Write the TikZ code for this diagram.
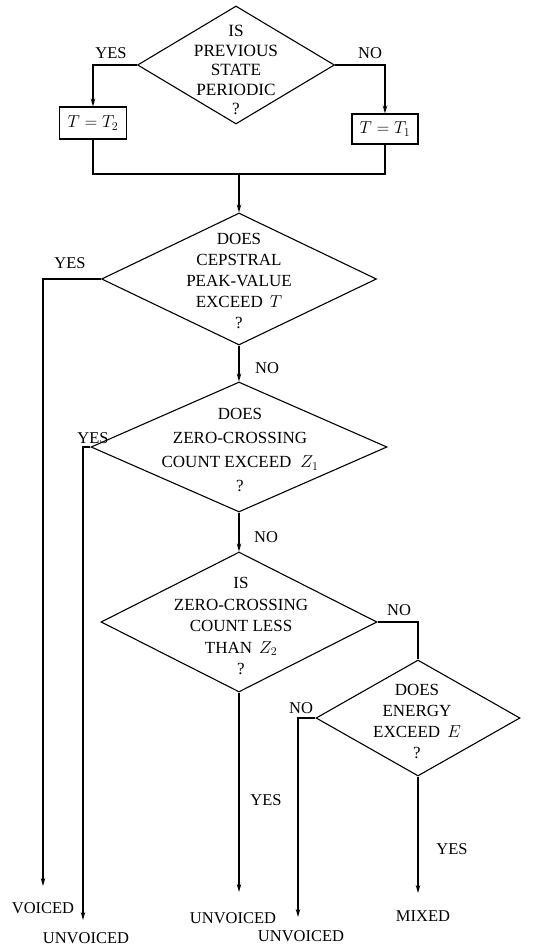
\documentclass[tikz,border=0pt]{standalone}
\usepackage{fontspec}
\setmainfont{Liberation Serif}
\usetikzlibrary{shapes.geometric,arrows.meta}
\begin{document}
\begin{tikzpicture}[x=1pt,y=-1pt,
  dia/.style={draw, shape=diamond, inner sep=0pt, line width=1.1pt},
  box/.style={draw, rectangle, inner sep=0pt, line width=1.1pt},
  txt/.style={align=center, inner sep=0pt},
  lbl/.style={font=\fontsize{16.5}{20}\selectfont, inner sep=0pt},
  ln/.style={line width=1.1pt},
  arr/.style={line width=1.1pt, -{Stealth[length=8pt,width=4.5pt]}}]
\useasboundingbox (0,0) rectangle (544,949);

% decision 1
\node[dia, minimum width=197pt, minimum height=118pt] (d1) at (236,65) {};
\node[txt, font=\fontsize{17.2}{19.5}\selectfont] (t1) at (236,70) {IS\\PREVIOUS\\STATE\\PERIODIC\\?};
\node[box, minimum width=67pt, minimum height=32pt, font=\fontsize{17}{20}\selectfont] (b2) at (93,123) {$T=T_2$};
\node[box, minimum width=66pt, minimum height=30pt, font=\fontsize{17}{20}\selectfont] (b1) at (385,129) {$T=T_1$};
\draw[arr] (d1.west) -| (b2.north);
\draw[arr] (d1.east) -| (b1.north);
\node[lbl] (y1) at (111,53) {YES};
\node[lbl] (n1) at (370,53) {NO};
\coordinate (ml) at (93,174);
\coordinate (mr) at (385,174);
\coordinate (m) at (239,174);
\draw[ln] (b2.south) -- (ml) -- (mr) -- (b1.south);

% decision 2
\node[dia, minimum width=275pt, minimum height=132pt] (d2) at (239,279) {};
\node[txt, font=\fontsize{17}{21}\selectfont] (t2) at (239,281) {DOES\\CEPSTRAL\\PEAK-VALUE\\EXCEED \,$T$\\?};
\draw[arr] (m) -- (d2.north);
\coordinate (v) at (43,886);
\draw[arr] (d2.west) -| (v);
\node[lbl] (y2) at (70,263) {YES};
\node[lbl] (n2) at (267,368) {NO};

% decision 3
\node[dia, minimum width=296pt, minimum height=130pt] (d3) at (239,447) {};
\node[txt, font=\fontsize{17}{24}\selectfont] (t3) at (240,450) {DOES\\ZERO-CROSSING\\COUNT EXCEED \;$Z_1$\\?};
\draw[arr] (d2.south) -- (d3.north);
\coordinate (u1) at (83,920);
\draw[arr] (d3.west) -| (u1);
\node[lbl] (y3) at (93,438) {YES};
\node[lbl] (n3) at (266,537) {NO};

% decision 4
\node[dia, minimum width=276pt, minimum height=140pt] (d4) at (239,622) {};
\node[txt, font=\fontsize{17}{21.5}\selectfont] (t4) at (241,626) {IS\\ZERO-CROSSING\\COUNT LESS\\THAN \,$Z_2$\\?};
\draw[arr] (d3.south) -- (d4.north);
\coordinate (u2) at (239,892);
\draw[arr] (d4.south) -- (u2);
\node[lbl] (n4) at (399,610) {NO};
\node[lbl] (y4) at (266,800) {YES};

% decision 5
\node[dia, minimum width=204pt, minimum height=116pt] (d5) at (418,718) {};
\node[txt, font=\fontsize{17}{21}\selectfont] (t5) at (417,721) {DOES\\ENERGY\\EXCEED \,$E$\\?};
\draw[ln] (d4.east) -| (d5.north);
\coordinate (u3) at (298,917);
\draw[arr] (d5.west) -| (u3);
\coordinate (mx) at (418,893);
\draw[arr] (d5.south) -- (mx);
\node[lbl] (n5) at (301,708) {NO};
\node[lbl] (y5) at (452,849) {YES};

% outcomes
\node[lbl] (o1) at (43,908) {VOICED};
\node[lbl] (o2) at (86,938) {UNVOICED};
\node[lbl] (o3) at (233,918) {UNVOICED};
\node[lbl] (o4) at (301,936) {UNVOICED};
\node[lbl] (o5) at (423,916) {MIXED};
\end{tikzpicture}
\end{document}
